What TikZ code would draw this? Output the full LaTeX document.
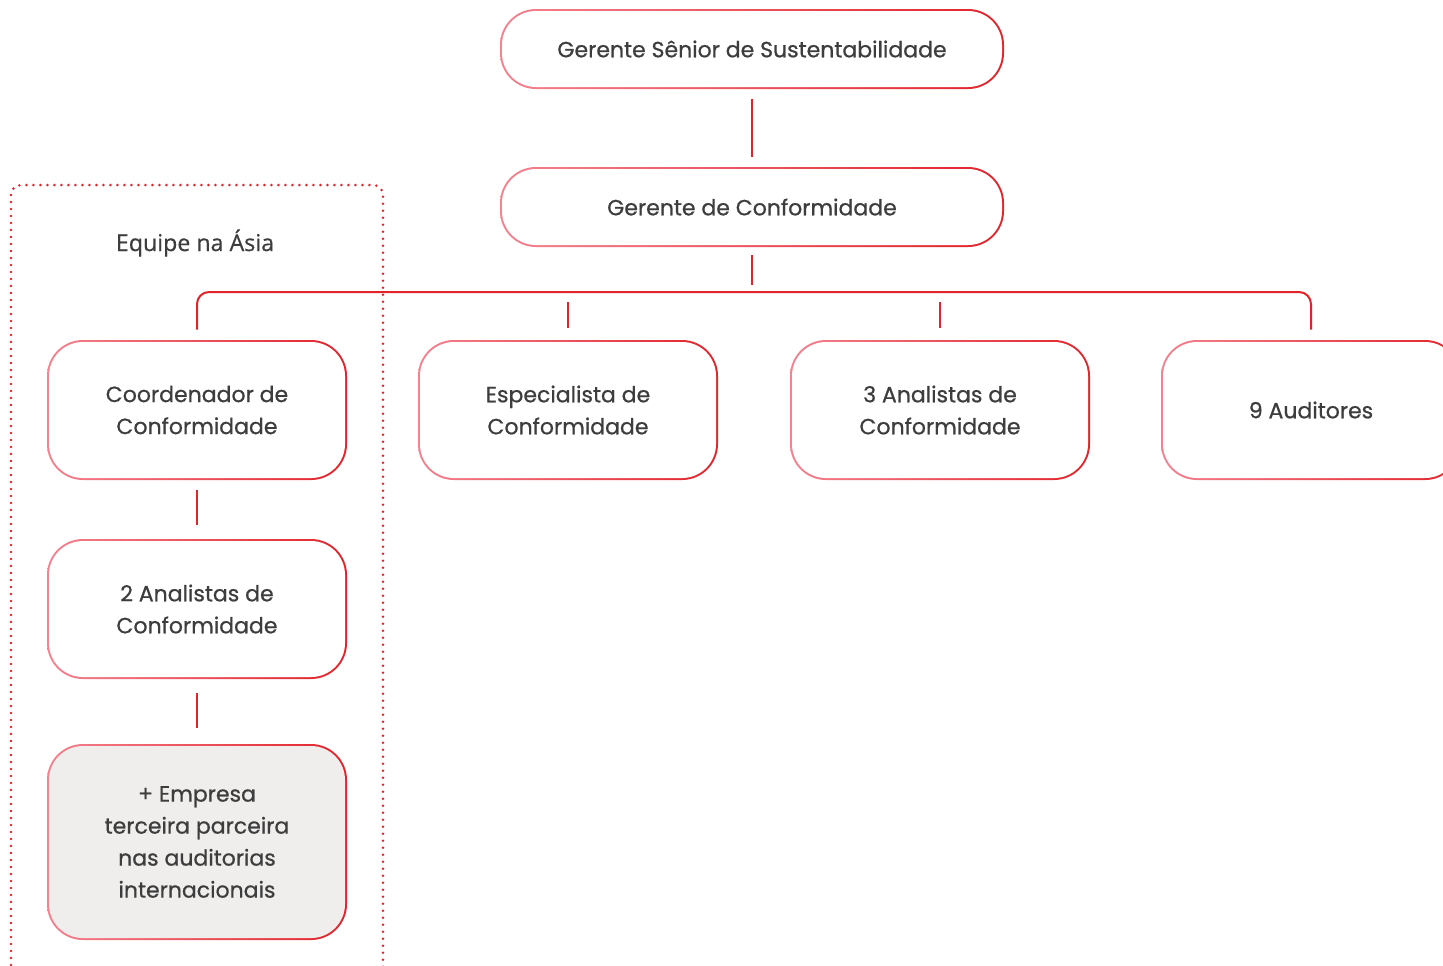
\documentclass[tikz,border=0pt]{standalone}
\usepackage{fontspec}
\setmainfont{Poppins}[FakeBold=0.7]
\newfontfamily\labelfont{Open Sans}[FakeBold=0.6]
\definecolor{pinkline}{HTML}{F4828F}
\definecolor{redline}{HTML}{E2232A}
\definecolor{darktext}{HTML}{3D3D3D}
\definecolor{greyfill}{HTML}{EFEEEC}
\tikzset{
  orgbox/.style={rounded corners=18pt, minimum width=150pt, minimum height=70pt,
    inner sep=0pt, align=center, text=darktext, font=\fontsize{11}{16}\selectfont,
    path picture={
      \shade[left color=pinkline, right color=redline]
        (path picture bounding box.south west) rectangle (path picture bounding box.north east);
      \fill[#1, rounded corners=17pt]
        ([shift={(1pt,1pt)}]path picture bounding box.south west) rectangle
        ([shift={(-1pt,-1pt)}]path picture bounding box.north east);
    }},
  orgbox/.default=white,
  topbox/.style={orgbox, minimum width=252pt, minimum height=40pt},
  link/.style={draw=redline, line width=1pt}
}
\begin{document}
\begin{tikzpicture}[x=0.5pt,y=-0.5pt]
  \useasboundingbox (0,0) rectangle (1443,965);
  % team box
  \draw[redline, line width=1.4pt, line cap=round, dash pattern=on 0pt off 3.5pt, rounded corners=5pt]
    (11,972) -- (11,185) -- (383,185) -- (383,972);
  \node[text=darktext, font=\labelfont\fontsize{11.6}{12}\selectfont] (asia) at (195,243) {Equipe na Ásia};

  \node[topbox] (sr) at (752,49) {Gerente Sênior de Sustentabilidade};
  \node[topbox] (cm) at (752,207) {Gerente de Conformidade};
  \coordinate (bus) at (752,292);

  \node[orgbox] (cc) at (197,410) {Coordenador de\\Conformidade};
  \node[orgbox] (es) at (568,410) {Especialista de\\Conformidade};
  \node[orgbox] (ac) at (940,410) {3 Analistas de\\Conformidade};
  \node[orgbox] (au) at (1311,410) {9 Auditores};
  \node[orgbox] (an) at (197,609) {2 Analistas de\\Conformidade};
  \node[orgbox=greyfill, minimum height=98pt] (ep) at (197,842)
    {+ Empresa\\terceira parceira\\nas auditorias\\internacionais};

  \draw[link, shorten <=5pt, shorten >=5pt] (sr.south) -- (cm.north);
  \draw[link, shorten <=4pt, shorten >=3.5pt] (cm.south) -- (bus);
  \draw[link, rounded corners=6pt] ([yshift=5pt]cc.north) |- (bus) -| ([yshift=5pt]au.north);
  \draw[link, shorten <=5pt, shorten >=6pt] (es.north |- bus) -- (es.north);
  \draw[link, shorten <=5pt, shorten >=6pt] (ac.north |- bus) -- (ac.north);
  \draw[link, shorten <=5pt, shorten >=7pt] (cc.south) -- (an.north);
  \draw[link, shorten <=7pt, shorten >=8pt] (an.south) -- (ep.north);
\end{tikzpicture}
\end{document}
